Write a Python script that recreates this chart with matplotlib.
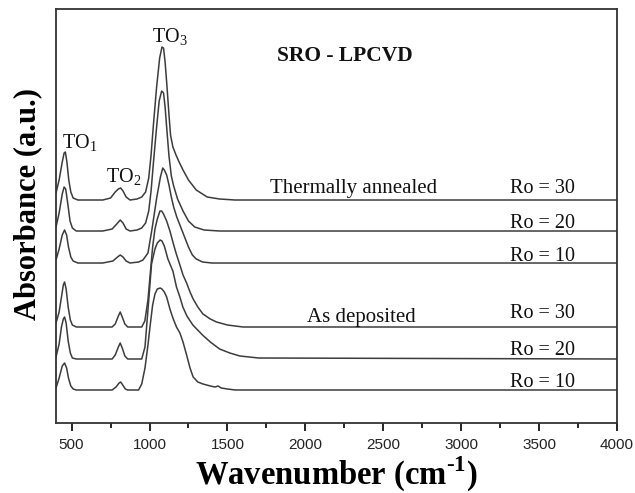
#!/usr/bin/env python3
"""
FTIR absorbance spectra of SRO films (LPCVD), as deposited and thermally annealed,
stacked with vertical offsets. Saves out.png.
"""

import matplotlib
matplotlib.use("Agg")
import matplotlib.pyplot as plt
from matplotlib.ticker import MultipleLocator

OUTPUT_FILE = "out.png"

LINE_COLOR = '#3c3c3c'
TEXT_COLOR = '#111111'

# Spectra: wavenumber (cm-1) and absorbance above each baseline (a.u.)
# Thermally annealed
TA30_WN = [400, 420, 440, 452, 460, 470, 482, 495, 510, 540, 700, 750, 780, 800, 815, 830, 850, 875,
           920, 950, 975, 995, 1010, 1025, 1045, 1065, 1080, 1090, 1100, 1110, 1125, 1135, 1150, 1170,
           1190, 1215, 1250, 1300, 1370, 1450, 1550, 4000]
TA30_ABS = [0.07, 0.20, 0.38, 0.47, 0.48, 0.38, 0.20, 0.08, 0.02, 0.00, 0.00, 0.02, 0.08, 0.11, 0.12, 0.09,
            0.03, 0.00, 0.01, 0.03, 0.08, 0.22, 0.45, 0.75, 1.12, 1.42, 1.53, 1.52, 1.38, 1.18, 0.85, 0.65,
            0.53, 0.45, 0.38, 0.30, 0.20, 0.10, 0.03, 0.01, 0.00, 0.00]

TA20_WN = [400, 420, 440, 452, 462, 475, 490, 505, 530, 700, 760, 790, 812, 830, 850, 875, 920, 950, 975,
           995, 1010, 1025, 1045, 1062, 1078, 1090, 1100, 1112, 1125, 1140, 1155, 1180, 1215, 1250, 1290,
           1350, 1450, 4000]
TA20_ABS = [0.04, 0.18, 0.37, 0.44, 0.42, 0.28, 0.10, 0.03, 0.00, 0.00, 0.02, 0.07, 0.11, 0.08, 0.02, 0.00,
            0.01, 0.03, 0.08, 0.20, 0.40, 0.68, 1.03, 1.30, 1.40, 1.38, 1.24, 1.00, 0.75, 0.55, 0.45, 0.32,
            0.20, 0.10, 0.04, 0.01, 0.00, 0.00]

TA10_WN = [400, 420, 440, 455, 468, 480, 495, 510, 540, 700, 765, 795, 812, 830, 850, 875, 930, 958, 990,
           1015, 1047, 1070, 1085, 1095, 1110, 1125, 1140, 1155, 1175, 1200, 1225, 1250, 1275, 1300, 1340,
           1400, 4000]
TA10_ABS = [0.03, 0.14, 0.28, 0.33, 0.28, 0.16, 0.06, 0.02, 0.00, 0.00, 0.02, 0.06, 0.08, 0.06, 0.02, 0.00,
            0.01, 0.03, 0.10, 0.33, 0.66, 0.86, 0.95, 0.93, 0.88, 0.78, 0.66, 0.56, 0.46, 0.36, 0.26, 0.16,
            0.08, 0.04, 0.01, 0.00, 0.00]

# As deposited
AD30_WN = [400, 420, 435, 447, 455, 465, 478, 492, 505, 530, 760, 780, 800, 812, 825, 842, 860, 950, 970,
           990, 1003, 1020, 1035, 1050, 1067, 1078, 1090, 1110, 1131, 1150, 1170, 1195, 1215, 1238, 1260,
           1280, 1310, 1343, 1390, 1430, 1500, 1600, 4000]
AD30_ABS = [0.04, 0.15, 0.30, 0.42, 0.45, 0.38, 0.20, 0.07, 0.02, 0.00, 0.00, 0.03, 0.11, 0.15, 0.10, 0.03,
            0.00, 0.00, 0.06, 0.27, 0.50, 0.80, 0.98, 1.08, 1.16, 1.16, 1.13, 1.06, 0.96, 0.85, 0.74, 0.62,
            0.52, 0.44, 0.35, 0.28, 0.20, 0.13, 0.08, 0.05, 0.02, 0.00, 0.00]

AD20_WN = [400, 420, 435, 447, 455, 465, 478, 492, 505, 530, 760, 780, 800, 812, 825, 842, 860, 950, 971,
           990, 1013, 1035, 1050, 1068, 1080, 1095, 1118, 1150, 1173, 1195, 1214, 1240, 1278, 1340, 1390,
           1450, 1515, 1580, 1700, 4000]
AD20_ABS = [0.02, 0.15, 0.32, 0.40, 0.42, 0.36, 0.18, 0.06, 0.01, 0.00, 0.00, 0.04, 0.12, 0.16, 0.11, 0.03,
            0.00, 0.00, 0.12, 0.49, 0.95, 1.10, 1.16, 1.19, 1.18, 1.13, 1.00, 0.88, 0.72, 0.62, 0.52, 0.43,
            0.34, 0.24, 0.17, 0.10, 0.06, 0.03, 0.01, 0.00]

AD10_WN = [400, 420, 440, 455, 468, 480, 495, 510, 530, 760, 785, 805, 815, 828, 845, 860, 930, 950, 971,
           990, 1003, 1020, 1035, 1050, 1068, 1080, 1095, 1110, 1131, 1150, 1173, 1195, 1215, 1238, 1260,
           1280, 1310, 1343, 1390, 1420, 1440, 1460, 1500, 1550, 4000]
AD10_ABS = [0.02, 0.12, 0.24, 0.27, 0.22, 0.12, 0.04, 0.01, 0.00, 0.00, 0.03, 0.07, 0.08, 0.05, 0.01, 0.00,
            0.00, 0.06, 0.22, 0.45, 0.63, 0.85, 0.96, 1.01, 1.02, 1.01, 0.98, 0.93, 0.81, 0.72, 0.63, 0.57,
            0.48, 0.35, 0.22, 0.13, 0.08, 0.06, 0.04, 0.03, 0.04, 0.02, 0.01, 0.00, 0.00]

SPECTRA = [
    (TA30_WN, TA30_ABS), (TA20_WN, TA20_ABS), (TA10_WN, TA10_ABS),
    (AD30_WN, AD30_ABS), (AD20_WN, AD20_ABS), (AD10_WN, AD10_ABS),
]
RO_LABELS = ["Ro = 30", "Ro = 20", "Ro = 10", "Ro = 30", "Ro = 20", "Ro = 10"]

# vertical stacking of the curves (a.u.)
OFFSETS = [2.23, 1.92, 1.60, 0.96, 0.64, 0.33]
RO_LABEL_Y = [2.30, 1.95, 1.62, 1.05, 0.68, 0.36]


def plot_spectra():
    plt.rcParams['font.family'] = ['Liberation Serif', 'DejaVu Serif']
    plt.rcParams['mathtext.fontset'] = 'custom'
    plt.rcParams['mathtext.rm'] = 'Liberation Serif'
    plt.rcParams['mathtext.bf'] = 'Liberation Serif:bold'

    fig = plt.figure(figsize=(6.35, 4.93), dpi=100)
    ax = fig.add_axes([0.0882, 0.142, 0.8835, 0.8397])

    for (wn, absb), off in zip(SPECTRA, OFFSETS):
        ax.plot(wn, [a + off for a in absb], color=LINE_COLOR, lw=1.1)

    for label, y in zip(RO_LABELS, RO_LABEL_Y):
        ax.text(3310, y, label, fontsize=14.5, color=TEXT_COLOR, va='baseline')

    ax.text(1772, 2.30, "Thermally annealed", fontsize=15, color=TEXT_COLOR, va='baseline')
    ax.text(2009, 1.01, "As deposited", fontsize=15, color=TEXT_COLOR, va='baseline')
    ax.text(1817, 3.62, "SRO - LPCVD", fontsize=15.5, fontweight='bold', color=TEXT_COLOR, va='baseline')
    ax.text(438, 2.74, "TO$_1$", fontsize=14.5, color=TEXT_COLOR, va='baseline')
    ax.text(721, 2.40, "TO$_2$", fontsize=14.5, color=TEXT_COLOR, va='baseline')
    ax.text(1015, 3.80, "TO$_3$", fontsize=14.5, color=TEXT_COLOR, va='baseline')

    ax.set_xlim(400, 4000)
    ax.set_ylim(0, 4.14)
    ax.xaxis.set_major_locator(MultipleLocator(500))
    ax.xaxis.set_minor_locator(MultipleLocator(250))
    ax.tick_params(axis='x', which='major', direction='out', length=6, width=1.2,
                   labelsize=11, labelcolor='#222222', pad=4.5)
    ax.tick_params(axis='x', which='minor', direction='out', length=3.5, width=1.2)
    for lbl in ax.get_xticklabels():
        lbl.set_family('Liberation Sans')
    ax.set_yticks([])
    for sp in ax.spines.values():
        sp.set_linewidth(1.3)
        sp.set_color('#333333')

    ax.set_xlabel("Wavenumber (cm$^{\\mathbf{\\text{-}1}}$)", fontsize=23.5, fontweight='bold', labelpad=2)
    ax.set_ylabel("Absorbance (a.u.)", fontsize=22, fontweight='bold')
    ax.yaxis.set_label_coords(-0.025, 0.53)

    fig.savefig(OUTPUT_FILE, dpi=100)
    print(f"Saved: {OUTPUT_FILE}")


def main():
    plot_spectra()


if __name__ == "__main__":
    main()
